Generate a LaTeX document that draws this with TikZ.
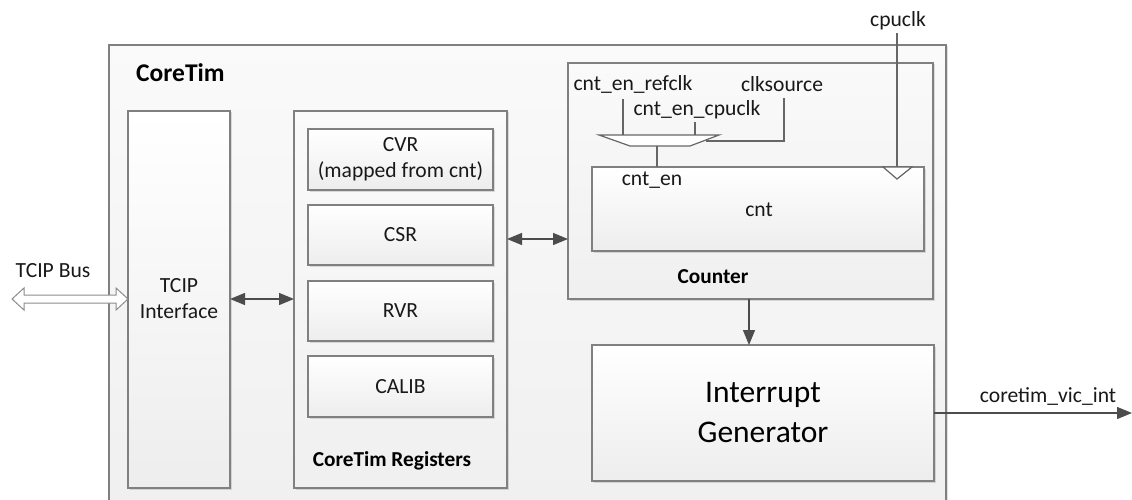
\documentclass[tikz,border=0pt]{standalone}
\usepackage{fontspec}
\setmainfont{Carlito}
\usetikzlibrary{arrows.meta,shadows}
\begin{document}
\begin{tikzpicture}[x=1pt,y=-1pt,
  txt/.style={font=\fontsize{21.6}{26}\selectfont, text=black!90, inner sep=0pt},
  boldtxt/.style={font=\fontsize{21.3}{26}\selectfont\bfseries, text=black, inner sep=0pt},
  blk/.style={draw=black!50, line width=1.2pt, top color=white, bottom color=black!7, inner sep=0pt, outer sep=0pt, align=center,
     font=\fontsize{21.6}{26}\selectfont, text=black!90,
     drop shadow={shadow xshift=1.5pt, shadow yshift=-1.5pt, fill=black, opacity=0.12}},
  grp/.style={draw=black!50, line width=1.2pt, top color=black!2, bottom color=black!6, inner sep=0pt, outer sep=0pt,
     drop shadow={shadow xshift=1.5pt, shadow yshift=-1.5pt, fill=black, opacity=0.12}},
  conn/.style={draw=black!70, line width=1.3pt},
  biarrow/.style={conn, {Triangle[length=15pt,width=12pt]}-{Triangle[length=15pt,width=12pt]}},
  onearrow/.style={conn, -{Triangle[length=15pt,width=12pt]}},
  sig/.style={draw=black!60, line width=1.2pt}
]
\useasboundingbox (0,0) rectangle (1132,500);
\clip (0,0) rectangle (1132,500);
\fill[white] (0,0) rectangle (1132,500);

% outer CoreTim box
\node[grp, minimum width=837pt, minimum height=470pt, anchor=north west] (core) at (109,45) {};
\node[font=\fontsize{25.5}{30}\selectfont\bfseries, inner sep=0pt, anchor=west] (coretitle) at (136,73) {CoreTim};

% TCIP interface
\node[blk, minimum width=102pt, minimum height=377pt, anchor=north west] (tcip) at (128,111) {};
\node[txt, align=center] (tciptxt) at (179,299) {TCIP\\Interface};

% registers group
\node[grp, minimum width=213pt, minimum height=377pt, anchor=north west] (regs) at (294,111) {};
\node[blk, minimum width=185pt, minimum height=61pt, anchor=north west] (cvr) at (308,129) {CVR\\(mapped from cnt)};
\node[blk, minimum width=185pt, minimum height=60pt, anchor=north west] (csr) at (308,205) {CSR};
\node[blk, minimum width=185pt, minimum height=60pt, anchor=north west] (rvr) at (308,281) {RVR};
\node[blk, minimum width=185pt, minimum height=61pt, anchor=north west] (calib) at (308,356) {CALIB};
\node[boldtxt] (regtitle) at (392,461) {CoreTim Registers};

% counter group
\node[grp, minimum width=365pt, minimum height=236pt, anchor=north west] (counter) at (568,63) {};
\node[blk, minimum width=332pt, minimum height=84pt, anchor=north west] (cnt) at (592,167) {};
\node[txt] (cnttxt) at (759,210) {cnt};
\node[txt] (cnten) at (652,180) {cnt\_en};
\node[boldtxt] (countertitle) at (713,277) {Counter};

% signal labels
\node[txt] (refclk) at (633,84) {cnt\_en\_refclk};
\node[txt] (clksrc) at (782,84) {clksource};
\node[txt] (cpuclken) at (697,110) {cnt\_en\_cpuclk};
\node[txt] (cpuclk) at (898,21) {cpuclk};

% mux
\coordinate (m1) at (599,135);
\coordinate (m2) at (719,135);
\coordinate (m3) at (690,146);
\coordinate (m4) at (630,146);
\filldraw[sig, fill=white] (m1) -- (m2) -- (m3) -- (m4) -- cycle;
\draw[sig] (623,99) -- (623,135);
\draw[sig] (695,122) -- (695,135);
\draw[sig] (784,98) -- (784,141) -- (706,141);
\draw[sig] (657,146) -- (cnt.north -| 657,0);

% cpuclk line and clock triangle
\coordinate (ck1) at (883,167);
\coordinate (ck2) at (912,167);
\coordinate (ck3) at (897,179);
\draw[sig] (897,33) -- (897,167);
\filldraw[sig, fill=white] (ck1) -- (ck2) -- (ck3) -- cycle;

% interrupt generator
\node[blk, minimum width=342pt, minimum height=136pt, anchor=north west, font=\fontsize{31.5}{40}\selectfont, text=black] (intgen) at (592,345) {Interrupt\\Generator};

% connectors
\draw[biarrow] (tcip.east |- 0,299) -- (regs.west |- 0,299);
\draw[biarrow] (regs.east |- 0,239) -- (counter.west |- 0,239);
\draw[onearrow] (counter.south -| 749,0) -- (intgen.north -| 749,0);
\coordinate (outend) at (1132,413);
\draw[onearrow] (intgen.east |- outend) -- (outend);
\node[txt] (vic) at (1048,396) {coretim\_vic\_int};

% TCIP bus hollow double arrow
\coordinate (busend) at (12,299);
\filldraw[draw=black!45, line width=1pt, fill=white]
  (busend) -- (24,288) -- (24,295) -- (116,295) -- (116,288) -- (tcip.west |- busend)
  -- (116,310) -- (116,303) -- (24,303) -- (24,310) -- cycle;
\node[txt] (bus) at (53,271) {TCIP Bus};
\end{tikzpicture}
\end{document}
